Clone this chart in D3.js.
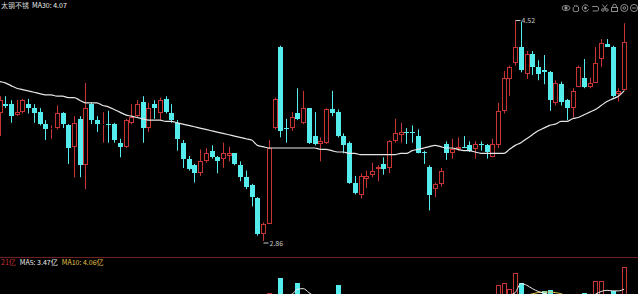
<!DOCTYPE html>
<html>
<head>
<meta charset="utf-8">
<script src="https://cdn.jsdelivr.net/npm/d3@7"></script>
<style>
  html, body { margin: 0; padding: 0; background: #000; overflow: hidden; }
  svg { display: block; }
  text { font-family: "Noto Sans CJK SC", "Noto Sans", sans-serif; }
</style>
</head>
<body>
<script>
// daily candles (left to right)
const opens = [3.82,3.89,3.89,3.81,3.83,3.89,3.86,3.83,3.74,3.70,
  3.71,3.82,3.73,3.57,3.78,3.43,3.89,3.77,3.73,3.74,
  3.74,3.60,3.57,3.75,3.80,3.91,3.71,3.89,3.82,3.93,
  3.82,3.75,3.60,3.48,3.43,3.37,3.46,3.54,3.49,3.48,
  3.50,3.52,3.43,3.34,3.28,3.18,2.91,2.99,3.71,4.32,
  3.71,3.71,3.82,3.75,3.86,3.65,3.59,3.60,3.85,3.83,
  3.65,3.60,3.30,3.21,3.33,3.36,3.40,3.44,3.41,3.61,
  3.66,3.68,3.68,3.65,3.53,3.42,3.25,3.29,3.59,3.52,
  3.55,3.57,3.58,3.55,3.59,3.58,3.49,3.58,3.84,4.08,
  4.20,4.32,4.12,4.27,4.17,4.15,4.13,3.90,4.04,3.92,
  3.86,4.02,4.09,4.02,4.05,4.23,4.34,4.32,3.97,4.00];
const highs = [3.95,3.95,3.92,3.92,3.93,3.93,3.89,3.86,3.77,3.73,
  3.88,3.83,3.74,3.80,3.80,4.05,3.90,3.80,3.83,3.84,
  3.75,3.63,3.78,3.89,3.92,3.95,3.90,3.92,3.94,3.95,
  3.89,3.77,3.62,3.50,3.44,3.55,3.56,3.58,3.50,3.60,
  3.57,3.52,3.46,3.39,3.29,3.19,3.00,3.62,3.94,4.33,
  3.78,3.83,4.01,3.99,3.86,3.83,3.64,3.86,3.99,3.85,
  3.67,3.61,3.35,3.37,3.39,3.45,3.43,3.49,3.62,3.78,
  3.75,3.71,3.73,3.70,3.54,3.43,3.30,3.41,3.61,3.63,
  3.64,3.65,3.61,3.61,3.61,3.59,3.63,3.90,4.14,4.18,
  4.52,4.51,4.29,4.29,4.22,4.26,4.14,4.07,4.06,3.93,
  4.01,4.18,4.23,4.09,4.32,4.38,4.38,4.33,4.01,4.50];
const lows = [3.65,3.86,3.75,3.80,3.82,3.82,3.75,3.73,3.62,3.63,
  3.70,3.71,3.44,3.34,3.34,3.25,3.74,3.68,3.60,3.60,
  3.60,3.49,3.56,3.74,3.79,3.60,3.68,3.78,3.77,3.82,
  3.75,3.54,3.41,3.39,3.30,3.35,3.45,3.48,3.37,3.41,
  3.46,3.43,3.31,3.25,3.12,2.90,2.86,2.99,3.70,3.64,
  3.60,3.69,3.77,3.74,3.59,3.58,3.46,3.59,3.80,3.64,
  3.52,3.29,3.21,3.18,3.26,3.34,3.31,3.36,3.37,3.60,
  3.60,3.59,3.60,3.52,3.44,3.09,3.19,3.27,3.47,3.48,
  3.54,3.56,3.53,3.48,3.54,3.48,3.49,3.56,3.82,3.95,
  4.18,4.13,4.08,4.11,4.07,4.04,3.84,3.88,3.88,3.77,
  3.79,4.02,4.01,4.01,4.05,4.17,4.32,3.94,3.91,3.99];
const closes = [3.92,3.88,3.80,3.83,3.92,3.86,3.82,3.74,3.70,3.71,
  3.82,3.74,3.56,3.75,3.43,3.86,3.77,3.74,3.74,3.74,
  3.62,3.57,3.77,3.79,3.89,3.71,3.86,3.86,3.92,3.83,
  3.77,3.63,3.48,3.40,3.37,3.46,3.52,3.49,3.46,3.52,
  3.52,3.44,3.34,3.27,3.19,2.91,2.99,3.56,3.93,3.69,
  3.70,3.79,3.78,3.86,3.60,3.59,3.61,3.85,3.82,3.65,
  3.58,3.30,3.22,3.35,3.35,3.39,3.42,3.40,3.61,3.67,
  3.68,3.67,3.67,3.52,3.52,3.21,3.29,3.39,3.52,3.55,
  3.57,3.56,3.54,3.59,3.58,3.53,3.59,3.84,4.09,4.17,
  4.32,4.15,4.27,4.17,4.12,4.13,3.92,4.05,3.91,3.86,
  3.99,4.17,4.02,4.05,4.20,4.35,4.32,3.95,3.99,4.36];
const ma30 = [4.06,4.05,4.03,4.01,4.00,3.99,3.98,3.97,3.96,3.96,
  3.95,3.95,3.94,3.94,3.92,3.90,3.90,3.90,3.88,3.87,
  3.85,3.83,3.81,3.80,3.79,3.78,3.77,3.77,3.77,3.76,
  3.76,3.75,3.74,3.73,3.72,3.71,3.70,3.69,3.68,3.67,
  3.66,3.65,3.64,3.63,3.62,3.58,3.57,3.56,3.56,3.56,
  3.56,3.56,3.56,3.56,3.56,3.56,3.55,3.55,3.54,3.53,
  3.53,3.52,3.52,3.51,3.51,3.51,3.51,3.51,3.51,3.51,
  3.52,3.52,3.54,3.55,3.56,3.57,3.58,3.57,3.56,3.56,
  3.55,3.54,3.54,3.53,3.52,3.52,3.52,3.52,3.52,3.55,
  3.58,3.60,3.63,3.66,3.69,3.71,3.73,3.74,3.76,3.76,
  3.78,3.79,3.81,3.83,3.85,3.88,3.91,3.93,3.95,3.99];

// volume (亿) and its averages
const volumes = [3.2,2.8,3.5,2.6,3.1,2.9,3.3,3.8,4.1,2.7,
  3.4,3.0,4.6,4.2,5.1,5.8,4.0,3.2,3.6,2.9,
  3.7,3.4,4.3,3.1,3.5,4.4,3.9,2.8,3.3,3.6,
  3.0,4.2,4.5,3.3,3.1,3.4,2.7,2.5,2.6,2.9,
  2.4,2.8,3.6,3.9,4.4,5.9,5.2,6.5,6.0,9.2,
  5.6,5.0,8.3,5.8,6.1,4.3,3.5,5.4,4.9,7.9,
  5.2,5.7,4.1,4.0,3.2,2.9,2.6,2.8,4.8,4.2,
  3.4,2.9,3.1,3.8,2.7,5.6,3.9,3.5,4.6,3.0,
  2.6,2.4,2.8,3.1,2.7,2.9,4.2,7.9,8.3,7.2,
  10.0,8.3,6.0,5.8,6.1,6.9,7.0,5.3,5.5,4.8,
  5.0,5.9,6.6,4.9,8.6,8.6,5.2,6.9,4.4,11.1];
const volMa5 = [3.1,3.0,3.1,3.0,3.0,3.0,3.1,3.1,3.4,3.4,
  3.5,3.4,3.6,3.8,4.1,4.5,4.7,4.5,4.4,3.9,
  3.5,3.4,3.6,3.5,3.6,3.7,3.8,3.6,3.6,3.6,
  3.3,3.4,3.7,3.8,3.8,3.7,3.4,3.0,2.9,2.8,
  2.6,2.6,2.9,3.1,3.4,4.1,4.8,5.4,5.6,6.1,
  6.2,6.3,7.2,7.3,6.6,5.9,5.3,5.0,5.2,5.3,
  5.4,5.6,5.5,4.9,4.3,4.0,3.4,3.1,3.3,3.4,
  3.6,3.6,3.7,3.6,3.2,3.8,3.9,4.1,4.3,4.1,
  3.9,3.7,3.0,2.8,2.7,2.8,3.1,4.2,5.2,6.1,
  6.6,8.2,7.9,7.3,6.8,6.5,6.2,5.9,5.6,5.5,
  5.5,5.3,5.7,5.8,6.3,6.8,7.0,6.9,6.9,7.2];
const volMa10 = [3.3,3.2,3.2,3.2,3.1,3.1,3.1,3.1,3.2,3.2,
  3.3,3.3,3.4,3.5,3.7,3.9,4.1,4.1,4.2,4.2,
  4.1,4.0,4.0,3.9,3.8,3.7,3.7,3.6,3.6,3.6,
  3.5,3.5,3.6,3.6,3.7,3.6,3.5,3.4,3.3,3.3,
  3.1,3.0,3.0,3.0,3.1,3.3,3.6,4.0,4.4,4.8,
  5.2,5.4,5.7,6.0,6.1,6.0,5.9,5.8,5.6,5.5,
  5.4,5.4,5.2,5.0,4.9,4.7,4.6,4.3,4.1,4.0,
  3.8,3.6,3.5,3.5,3.4,3.5,3.6,3.7,3.8,3.8,
  3.8,3.7,3.6,3.5,3.4,3.3,3.4,3.8,4.3,4.8,
  5.3,5.7,6.1,6.4,6.6,6.7,6.7,6.6,6.4,6.0,
  5.8,5.6,5.5,5.4,5.6,5.8,6.0,6.1,6.1,6.2];

const toolIcons = ["eye", "hand", "refresh", "undo", "cut", "lock", "gear", "minus"];

const W = 638, H = 294;
const UP = "#c63434", DOWN = "#55ecee";
const n = opens.length;

const svg = d3.select("body").append("svg")
    .attr("width", W)
    .attr("height", H)
    .style("background", "#000");

// scales
const x = d3.scaleLinear().domain([0, n - 1]).range([-0.5, 624.1]);
const y = d3.scaleLinear().domain([2.86, 4.52]).range([241, 20.5]);
const vy = d3.scaleLinear().domain([0, 12]).range([330, 262]);

const candles = d3.range(n).map(i => ({
    i, o: opens[i], h: highs[i], l: lows[i], c: closes[i], v: volumes[i],
    up: closes[i] > opens[i]
}));
const px = d => Math.round(x(d.i));

// price panel
const g = svg.append("g");

// wicks
g.selectAll(".wick")
    .data(candles)
    .enter().append("path")
    .attr("class", "wick")
    .attr("stroke", d => d.up ? UP : DOWN)
    .attr("stroke-width", 1)
    .attr("d", d => {
    const cx = px(d) + 0.5;
    const top = Math.round(y(Math.max(d.o, d.c)));
    const bot = Math.round(y(Math.min(d.o, d.c)));
    if (d.up) {
        return "M" + cx + "," + y(d.h) + "L" + cx + "," + top
            + "M" + cx + "," + bot + "L" + cx + "," + y(d.l);
    }
    return "M" + cx + "," + y(d.h) + "L" + cx + "," + y(d.l);
});

// bodies: hollow red for up days, filled cyan for down days
g.selectAll(".body")
    .data(candles)
    .enter().append("rect")
    .attr("class", "body")
    .attr("shape-rendering", "crispEdges")
    .each(function (d) {
    const top = Math.round(y(Math.max(d.o, d.c)));
    const bot = Math.round(y(Math.min(d.o, d.c)));
    const r = d3.select(this);
    if (d.up) {
        r.attr("x", px(d) - 1.5).attr("y", top + 0.5)
            .attr("width", 4).attr("height", Math.max(0, bot - top - 1))
            .attr("fill", "#000").attr("stroke", UP).attr("stroke-width", 1);
    } else {
        r.attr("x", px(d) - 2).attr("y", top)
            .attr("width", 5).attr("height", Math.max(1, bot - top))
            .attr("fill", DOWN);
    }
});

// MA30
g.append("path")
    .datum(ma30)
    .attr("fill", "none")
    .attr("stroke", "#e6e6e6")
    .attr("stroke-width", 1.2)
    .attr("d", d3.line().x((d, i) => x(i)).y(d => y(d)).curve(d3.curveMonotoneX));

// max / min markers
const hiIdx = d3.maxIndex(highs), loIdx = d3.minIndex(lows);
const marks = [
    { i: hiIdx, v: highs[hiIdx], dy: 0 },
    { i: loIdx, v: lows[loIdx], dy: 2 }
];
marks.forEach(m => {
    const cx = Math.round(x(m.i)) + 0.5, yy = y(m.v) + m.dy;
    g.append("line")
        .attr("x1", cx).attr("x2", cx + 5)
        .attr("y1", yy).attr("y2", yy)
        .attr("stroke", "#c8c8c8").attr("stroke-width", 1);
    g.append("text")
        .attr("x", cx + 6).attr("y", yy + 2.5)
        .attr("fill", "#c8c8c8")
        .style("font-size", "7px")
        .text(m.v.toFixed(2));
});

// header
const head = svg.append("text").attr("x", 1).attr("y", 8).style("font-size", "7px");
head.append("tspan").attr("fill", "#d8d8d8").text("太钢不锈");
head.append("tspan").attr("dx", 3).attr("fill", "#f0f0f0").text("MA30: 4.07");

// toolbar icons
const icon = svg.append("g").attr("fill", "none").attr("stroke", "#9a9a9a").attr("stroke-width", 0.9);
const iconX = d3.scalePoint().domain(toolIcons).range([566, 634]);
toolIcons.forEach(name => {
    const cx = iconX(name), cy = 8;
    const ig = icon.append("g").attr("transform", "translate(" + cx + "," + cy + ")");
    if (name === "eye") {
        ig.append("ellipse").attr("rx", 4).attr("ry", 2.5);
        ig.append("circle").attr("r", 1.2).attr("fill", "#9a9a9a");
    } else if (name === "hand") {
        ig.append("path").attr("d", "M-2.5,3 L-2.5,-1 M-1,-1 L-1,-3 M0.5,-1 L0.5,-3.2 M2,-1 L2,-2.5 M-2.5,3 Q0,4.5 2.8,3 L2.8,-1");
    } else if (name === "refresh") {
        ig.append("path").attr("d", "M3,-1.5 A3.3,3.3 0 1 0 3.2,1.2");
        ig.append("circle").attr("r", 1).attr("fill", "#9a9a9a");
    } else if (name === "undo") {
        ig.append("path").attr("d", "M-3,-1.5 L2,-1.5 Q3.5,-1.5 3.5,1 Q3.5,3 2,3 L-2.5,3");
    } else if (name === "cut") {
        ig.append("circle").attr("cx", -2).attr("cy", 2).attr("r", 1.3);
        ig.append("circle").attr("cx", 2).attr("cy", 2).attr("r", 1.3);
        ig.append("path").attr("d", "M-1,1 L2.5,-3.5 M1,1 L-2.5,-3.5");
    } else if (name === "lock") {
        ig.append("rect").attr("x", -3).attr("y", -0.5).attr("width", 6).attr("height", 4);
        ig.append("path").attr("d", "M-1.8,-0.5 L-1.8,-2 A1.8,1.8 0 0 1 1.8,-2 L1.8,-0.5");
    } else if (name === "gear") {
        ig.append("circle").attr("r", 3.6);
        ig.append("circle").attr("r", 1.3);
    } else {
        ig.append("circle").attr("r", 3.6);
        ig.append("path").attr("d", "M-2,0 L2,0");
    }
});

// volume panel
svg.append("line")
    .attr("x1", 0).attr("x2", W)
    .attr("y1", 257.5).attr("y2", 257.5)
    .attr("stroke", "#6e1f1f").attr("stroke-width", 1);

const vg = svg.append("g");
vg.selectAll(".vol")
    .data(candles)
    .enter().append("rect")
    .attr("class", "vol")
    .attr("shape-rendering", "crispEdges")
    .each(function (d) {
    const top = Math.round(vy(d.v)), bot = Math.round(vy(0));
    const r = d3.select(this);
    if (d.up) {
        r.attr("x", px(d) - 1.5).attr("y", top + 0.5)
            .attr("width", 4).attr("height", bot - top)
            .attr("fill", "#000").attr("stroke", UP).attr("stroke-width", 1);
    } else {
        r.attr("x", px(d) - 2).attr("y", top)
            .attr("width", 5).attr("height", bot - top)
            .attr("fill", DOWN);
    }
});

const vline = d3.line().x((d, i) => x(i)).y(d => vy(d)).curve(d3.curveMonotoneX);
vg.append("path").datum(volMa10)
    .attr("fill", "none").attr("stroke", "#e3c04a").attr("stroke-width", 1)
    .attr("d", vline);
vg.append("path").datum(volMa5)
    .attr("fill", "none").attr("stroke", "#eeeeee").attr("stroke-width", 1)
    .attr("d", vline);

const vlab = svg.append("text").attr("x", 1).attr("y", 265).style("font-size", "7px");
vlab.append("tspan").attr("fill", UP).text("21亿");
vlab.append("tspan").attr("dx", 4).attr("fill", "#eeeeee").text("MA5: 3.47亿");
vlab.append("tspan").attr("dx", 4).attr("fill", "#e3c04a").text("MA10: 4.06亿");
</script>
</body>
</html>
